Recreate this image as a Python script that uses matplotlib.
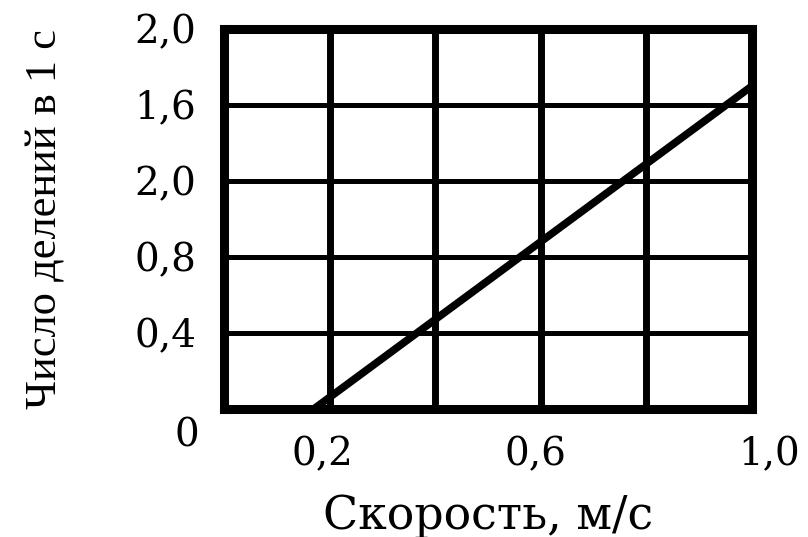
import matplotlib
matplotlib.use("Agg")
import matplotlib.pyplot as plt
from matplotlib.transforms import ScaledTranslation

# Data
speed = [0.17, 1.0]           # м/с
divisions = [0.0, 1.70]       # число делений в 1 с

x_major = [0.2, 0.6, 1.0]
x_major_labels = ["0,2", "0,6", "1,0"]
x_minor = [0.4, 0.8]
y_ticks = [0.0, 0.4, 0.8, 1.2, 1.6, 2.0]
y_tick_labels = ["0", "0,4", "0,8", "2,0", "1,6", "2,0"]

xlabel = "Скорость, м/с"
ylabel = "Число делений в 1 с"

fig = plt.figure(figsize=(8.08, 5.37), dpi=100)
ax = fig.add_axes([224/808, 1-409/537, (752-224)/808, (409-29)/537])

ax.set_xlim(0, 1.0)
ax.set_ylim(0, 2.0)

ax.set_xticks(x_major)
ax.set_xticklabels(x_major_labels)
ax.set_xticks(x_minor, minor=True)
ax.set_yticks(y_ticks)
ax.set_yticklabels(y_tick_labels)

for lab in ax.get_xticklabels() + ax.get_yticklabels():
    lab.set_fontfamily("DejaVu Serif")
    lab.set_fontsize(28)

ax.tick_params(axis="both", which="both", length=0)
ax.tick_params(axis="x", pad=20)
ax.tick_params(axis="y", pad=20)

# grid
ax.xaxis.grid(True, which="both", color="black", lw=5)
ax.yaxis.grid(True, which="major", color="black", lw=3.6)
ax.set_axisbelow(True)

for sp in ax.spines.values():
    sp.set_linewidth(6.5)
    sp.set_color("black")

ax.plot(speed, divisions, color="black", lw=5.5, solid_capstyle="butt",
        clip_on=False, zorder=5)

# nudge some labels like the reference
dpi_tr = fig.dpi_scale_trans
xl = ax.get_xticklabels()
shifts_x = [-7, -5, 17]
for lab, dx in zip(xl, shifts_x):
    lab.set_transform(lab.get_transform() + ScaledTranslation(dx/100, 0, dpi_tr))
yl = ax.get_yticklabels()
yl[0].set_transform(yl[0].get_transform() + ScaledTranslation(3/100, -23/100, dpi_tr))

ax.set_xlabel(xlabel, family="DejaVu Serif", fontsize=33)
ax.xaxis.set_label_coords(0.5, -0.222)
ax.set_ylabel(ylabel, family="Liberation Serif", fontsize=32)
ax.yaxis.set_label_coords(-0.300, 0.5)

fig.savefig("out.png", dpi=100, facecolor="white")
